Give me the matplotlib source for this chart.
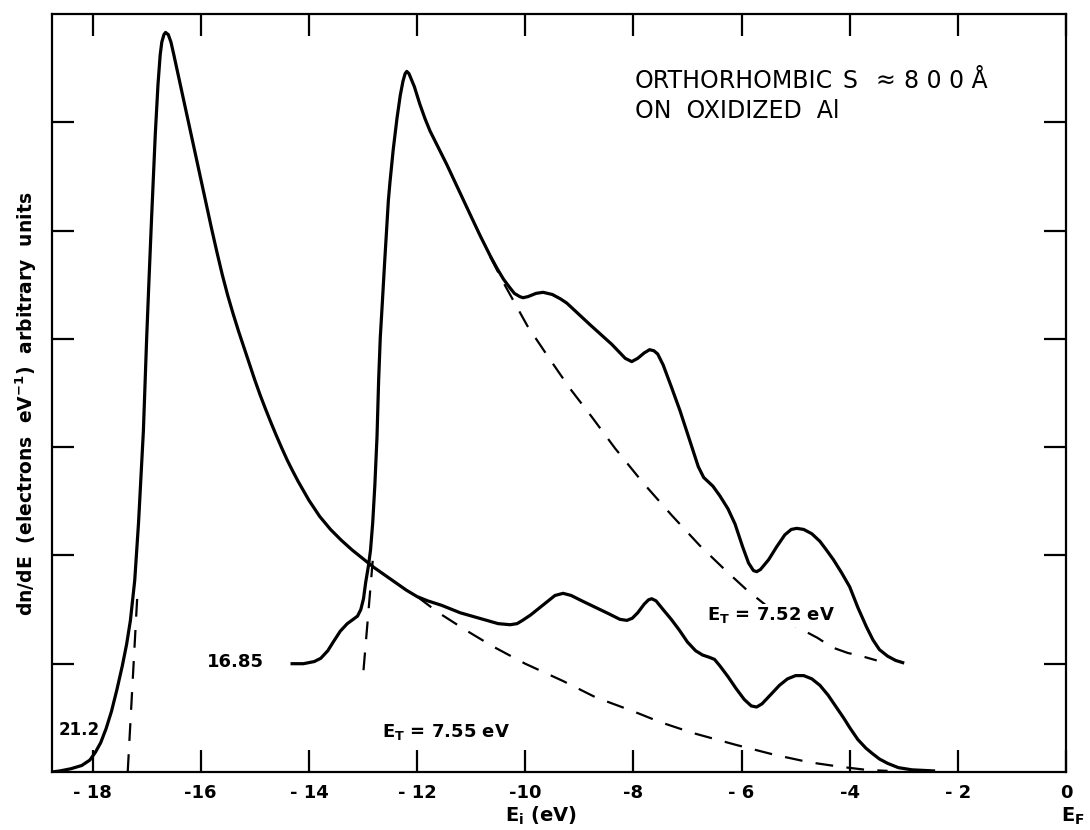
import numpy as np
import matplotlib
matplotlib.use('Agg')
import matplotlib.pyplot as plt

# spectrum taken with 21.2 eV photons
e_212 = [-18.75, -18.6, -18.4, -18.2, -18.05, -17.95, -17.85, -17.75, -17.65,
         -17.55, -17.45, -17.37, -17.3, -17.22, -17.15, -17.06, -17.0, -16.96,
         -16.91, -16.84, -16.79, -16.75, -16.72, -16.68, -16.65, -16.6, -16.55,
         -16.5, -16.4, -16.3, -16.2, -16.1, -16.0, -15.9, -15.8, -15.7, -15.6,
         -15.5, -15.4, -15.3, -15.2, -15.1, -15.0, -14.9, -14.8, -14.7, -14.6,
         -14.5, -14.4, -14.3, -14.2, -14.0, -13.8, -13.6, -13.4, -13.2, -13.0,
         -12.8, -12.6, -12.4, -12.2, -12.0, -11.8, -11.55, -11.2,
         -10.78, -10.5, -10.28, -10.15, -10.05, -9.9, -9.75, -9.6, -9.45, -9.3,
         -9.15, -8.95, -8.7, -8.45, -8.25, -8.12, -8.02, -7.92, -7.8, -7.72,
         -7.66, -7.58, -7.45, -7.3, -7.15, -7.0, -6.85, -6.72, -6.6, -6.5, -6.4,
         -6.25, -6.1, -5.95, -5.82, -5.72, -5.62, -5.45, -5.3, -5.15, -5.0,
         -4.85, -4.7, -4.55, -4.4, -4.25, -4.1, -4.0, -3.85, -3.7, -3.58, -3.45,
         -3.3, -3.1, -2.85, -2.45]
n_212 = [0.0, 0.01, 0.03, 0.06, 0.11, 0.18, 0.27, 0.4, 0.56,
         0.76, 0.98, 1.18, 1.4, 1.77, 2.3, 3.15, 4.0, 4.5,
         5.1, 5.89, 6.35, 6.62, 6.74, 6.81, 6.83, 6.81, 6.74,
         6.63, 6.4, 6.17, 5.94, 5.71, 5.48, 5.25, 5.02, 4.8, 4.59,
         4.4, 4.23, 4.07, 3.92, 3.77, 3.62, 3.48, 3.35, 3.225, 3.105,
         2.99, 2.88, 2.78, 2.685, 2.51, 2.36, 2.24, 2.14, 2.05, 1.97,
         1.89, 1.82, 1.75, 1.68, 1.62, 1.58, 1.54, 1.47,
         1.41, 1.37, 1.36, 1.37, 1.4, 1.45, 1.51, 1.57, 1.63, 1.65,
         1.63, 1.58, 1.52, 1.46, 1.41, 1.4, 1.42, 1.47, 1.55, 1.59,
         1.6, 1.58, 1.5, 1.41, 1.31, 1.2, 1.12, 1.08, 1.06, 1.04, 0.98,
         0.88, 0.77, 0.67, 0.61, 0.6, 0.63, 0.72, 0.8, 0.86, 0.89,
         0.89, 0.86, 0.8, 0.71, 0.6, 0.49, 0.41, 0.3, 0.22, 0.17, 0.12,
         0.08, 0.04, 0.02, 0.01]

# spectrum taken with 16.85 eV photons (offset by one unit)
e_1685 = [-14.31, -14.1, -13.9, -13.78, -13.65, -13.55, -13.42, -13.29, -13.18,
          -13.1, -13.04, -12.99, -12.95, -12.9, -12.86, -12.82, -12.78, -12.74,
          -12.71, -12.68, -12.64, -12.6, -12.53, -12.5, -12.44, -12.37, -12.31,
          -12.26, -12.22, -12.19, -12.15, -12.1, -12.05, -11.95, -11.85, -11.76,
          -11.6, -11.45, -11.3, -11.15, -11.0, -10.83, -10.65, -10.52, -10.4,
          -10.28, -10.2, -10.1, -10.04,
          -9.95, -9.8, -9.67, -9.5, -9.35, -9.23, -8.8, -8.4, -8.15, -8.03,
          -7.92, -7.8, -7.7, -7.62, -7.55, -7.45, -7.3, -7.14, -6.95, -6.8,
          -6.7, -6.53, -6.4, -6.25, -6.12, -5.98, -5.87, -5.78, -5.72, -5.65,
          -5.5, -5.35, -5.2, -5.08, -4.98, -4.85, -4.7, -4.55, -4.43, -4.3,
          -4.15, -4.0, -3.85, -3.69, -3.57, -3.45, -3.3, -3.15, -3.02]
n_1685 = [1.0, 1.0, 1.02, 1.05, 1.12, 1.2, 1.3, 1.37, 1.41,
          1.44, 1.5, 1.6, 1.75, 1.9, 2.05, 2.3, 2.65, 3.1,
          3.62, 4.01, 4.35, 4.7, 5.28, 5.45, 5.75, 6.04, 6.25,
          6.38, 6.45, 6.47, 6.45, 6.39, 6.33, 6.17, 6.03, 5.92,
          5.76, 5.61, 5.45, 5.29, 5.13, 4.95, 4.77, 4.65, 4.55,
          4.47, 4.42, 4.39, 4.38,
          4.39, 4.42, 4.43, 4.41, 4.37, 4.33, 4.13, 3.95, 3.82, 3.79,
          3.82, 3.87, 3.9, 3.89, 3.86, 3.76, 3.56, 3.34, 3.05, 2.82,
          2.72, 2.64, 2.55, 2.43, 2.29, 2.08, 1.93, 1.86, 1.85, 1.87,
          1.96, 2.08, 2.19, 2.24, 2.25, 2.24, 2.2, 2.13, 2.05, 1.96,
          1.84, 1.71, 1.52, 1.34, 1.22, 1.13, 1.07, 1.03, 1.01]

# scattered-electron backgrounds (dashed)
e_bg_212 = [-12.0, -11.6, -11.1, -10.6, -10.0, -9.3, -8.7, -8.0, -7.5, -6.9,
            -6.1, -5.4, -4.75, -4.2, -3.7, -3.3]
n_bg_212 = [1.62, 1.47, 1.31, 1.16, 1.0, 0.84, 0.69, 0.56, 0.46, 0.36,
            0.25, 0.16, 0.09, 0.05, 0.02, 0.01]
e_bg_1685 = [-10.65, -10.37, -9.96, -9.57, -9.17, -8.77, -8.34, -7.82, -7.29,
             -6.77, -6.27, -5.9, -5.45, -4.98, -4.6, -4.32, -4.04, -3.78, -3.5]
n_bg_1685 = [4.76, 4.49, 4.12, 3.83, 3.54, 3.28, 2.99, 2.67, 2.37,
             2.09, 1.85, 1.68, 1.5, 1.34, 1.24, 1.15, 1.1, 1.07, 1.03]

# extrapolated leading edges
e_edge_212 = [-17.35, -17.17]
n_edge_212 = [0.0, 1.65]
e_edge_1685 = [-12.99, -12.82]
n_edge_1685 = [0.94, 1.95]

xticks = [-18, -16, -14, -12, -10, -8, -6, -4, -2, 0]
xticklabels = ['- 18', '-16', '- 14', '- 12', '-10', '-8', '- 6', '-4', '- 2', '0']

fw = 'bold'

fig = plt.figure(figsize=(10.9, 8.3), dpi=100)
ax = fig.add_axes([0.0477, 0.0699, 0.9303, 0.9132])

ax.plot(e_212, n_212, 'k-', lw=2.3, solid_joinstyle='round')
ax.plot(e_1685, n_1685, 'k-', lw=2.3, solid_joinstyle='round')
for xs, ys in [(e_bg_212, n_bg_212), (e_bg_1685, n_bg_1685),
               (e_edge_212, n_edge_212), (e_edge_1685, n_edge_1685)]:
    ax.plot(xs, ys, 'k-', lw=1.6, dashes=(8, 6), zorder=1)

ax.set_xlim(-18.75, 0.0)
ax.set_ylim(0, 7)
ax.set_xticks(xticks)
ax.set_xticklabels(xticklabels, fontsize=13, fontweight=fw)
ax.set_yticks([1, 2, 3, 4, 5, 6])
ax.set_yticklabels([])
ax.tick_params(direction='in', length=16, width=1.6, top=True, right=True, pad=9)
for s in ax.spines.values():
    s.set_linewidth(1.6)

ax.text(-18.63, 0.39, '21.2', fontsize=12, fontweight=fw, va='center', ha='left')
ax.text(-15.88, 1.02, '16.85', fontsize=13, fontweight=fw, va='center', ha='left')
ax.text(-12.64, 0.32, r'E$_\mathregular{T}$ = 7.55 eV', fontsize=13, fontweight=fw,
        va='baseline', ha='left')
ax.text(-6.64, 1.40, r'E$_\mathregular{T}$ = 7.52 eV', fontsize=13, fontweight=fw,
        va='baseline', ha='left', zorder=3,
        bbox=dict(fc='white', ec='none', pad=1))

# sample description, top right
ax.text(-7.97, 6.32, 'ORTHORHOMBIC', fontsize=17, va='baseline', ha='left')
ax.text(-4.13, 6.32, 'S', fontsize=17, va='baseline', ha='left')
ax.text(-3.52, 6.32, '\u2248', fontsize=17, va='baseline', ha='left')
ax.text(-3.0, 6.32, '8 0 0 \u00c5', fontsize=17, va='baseline', ha='left')
ax.text(-7.97, 6.04, 'ON  OXIDIZED  Al', fontsize=17, va='baseline', ha='left')

ax.text(-9.7, -0.066, r'E$_\mathregular{i}$ (eV)', fontsize=14, fontweight=fw,
        transform=ax.get_xaxis_transform(), ha='center', va='baseline')
ax.text(-0.09, -0.066, r'E$_\mathregular{F}$', fontsize=14, fontweight=fw,
        transform=ax.get_xaxis_transform(), ha='left', va='baseline')
fig.text(26 / 1090, 1 - 404 / 830,
         r'dn/dE  (electrons  eV$^{\mathregular{-1}}$)  arbitrary  units',
         fontsize=13.5, fontweight=fw, rotation=90, ha='center', va='center')

fig.savefig('out.png', dpi=100)
plt.close()
